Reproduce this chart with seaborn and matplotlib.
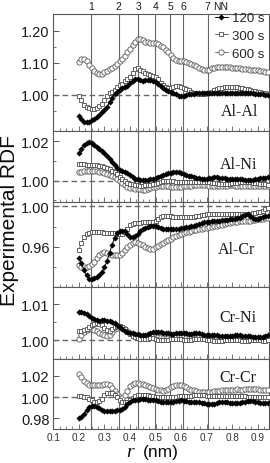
import matplotlib
matplotlib.use("Agg")
import matplotlib.pyplot as plt
import seaborn as sns
from matplotlib.ticker import FixedLocator

# ---------------- data ----------------
r_nm = [0.20, 0.21, 0.22, 0.23, 0.24, 0.25, 0.26, 0.27, 0.28, 0.29,
        0.30, 0.31, 0.32, 0.33, 0.34, 0.35, 0.36, 0.37, 0.38, 0.39,
        0.40, 0.41, 0.42, 0.43, 0.44, 0.45, 0.46, 0.47, 0.48, 0.49,
        0.50, 0.51, 0.52, 0.53, 0.54, 0.55, 0.56, 0.57, 0.58, 0.59,
        0.60, 0.61, 0.62, 0.63, 0.64, 0.65, 0.66, 0.67, 0.68, 0.69,
        0.70, 0.71, 0.72, 0.73, 0.74, 0.75, 0.76, 0.77, 0.78, 0.79,
        0.80, 0.81, 0.82, 0.83, 0.84, 0.85, 0.86, 0.87, 0.88, 0.89,
        0.90, 0.91, 0.92, 0.93, 0.94]

series_labels = ["120 s", "300 s", "600 s"]
panel_names = ["Al-Al", "Al-Ni", "Al-Cr", "Cr-Ni", "Cr-Cr"]
nn_r = [0.249, 0.356, 0.432, 0.499, 0.557, 0.607, 0.704]
nn_labels = ["1", "2", "3", "4", "5", "6", "7"]
x_ticks = [0.1, 0.2, 0.3, 0.4, 0.5, 0.6, 0.7, 0.8, 0.9]
x_tick_labels = ["0.1", "0.2", "0.3", "0.4", "0.5", "0.6", "0.7", "0.8", "0.9"]

al_al_120 = [0.934, 0.924, 0.916, 0.914, 0.916, 0.920, 0.925, 0.931, 0.938, 0.946,
             0.953, 0.962, 0.976, 0.991, 1.002, 1.010, 1.016, 1.020, 1.024, 1.028,
             1.036, 1.043, 1.048, 1.049, 1.046, 1.044, 1.045, 1.046, 1.046, 1.044,
             1.040, 1.034, 1.027, 1.021, 1.016, 1.012, 1.008, 1.005, 1.001, 0.997,
             0.995, 0.995, 0.998, 1.001, 1.003, 1.003, 1.004, 1.004, 1.004, 1.004,
             1.004, 1.005, 1.006, 1.007, 1.007, 1.007, 1.006, 1.005, 1.005, 1.005,
             1.005, 1.006, 1.007, 1.007, 1.007, 1.006, 1.005, 1.004, 1.004, 1.003,
             1.003, 1.002, 1.001, 0.999, 0.998]
al_al_300 = [0.997, 0.983, 0.969, 0.963, 0.960, 0.957, 0.956, 0.958, 0.964, 0.972,
             0.983, 0.996, 1.004, 1.010, 1.016, 1.023, 1.029, 1.035, 1.042, 1.048,
             1.056, 1.068, 1.080, 1.084, 1.078, 1.073, 1.069, 1.066, 1.063, 1.060,
             1.056, 1.048, 1.038, 1.030, 1.025, 1.021, 1.021, 1.024, 1.026, 1.026,
             1.024, 1.021, 1.018, 1.014, 1.010, 1.007, 1.004, 1.003, 1.003, 1.003,
             1.004, 1.006, 1.010, 1.015, 1.018, 1.020, 1.022, 1.023, 1.024, 1.025,
             1.025, 1.025, 1.024, 1.022, 1.020, 1.018, 1.017, 1.015, 1.013, 1.011,
             1.009, 1.008, 1.006, 1.004, 1.002]
al_al_600 = [1.101, 1.112, 1.112, 1.105, 1.094, 1.083, 1.074, 1.068, 1.065, 1.066,
             1.070, 1.075, 1.079, 1.084, 1.090, 1.097, 1.104, 1.112, 1.122, 1.133,
             1.143, 1.155, 1.166, 1.174, 1.174, 1.170, 1.166, 1.164, 1.163, 1.162,
             1.160, 1.157, 1.153, 1.148, 1.141, 1.133, 1.125, 1.116, 1.109, 1.106,
             1.105, 1.104, 1.102, 1.099, 1.096, 1.093, 1.089, 1.084, 1.079, 1.077,
             1.077, 1.078, 1.082, 1.085, 1.086, 1.087, 1.087, 1.086, 1.086, 1.086,
             1.085, 1.084, 1.083, 1.082, 1.080, 1.080, 1.079, 1.078, 1.078, 1.077,
             1.076, 1.075, 1.074, 1.072, 1.071]

al_ni_120 = [1.0140, 1.0160, 1.0180, 1.0192, 1.0195, 1.0190, 1.0180, 1.0170, 1.0160, 1.0150,
             1.0138, 1.0125, 1.0112, 1.0095, 1.0078, 1.0062, 1.0052, 1.0047, 1.0044, 1.0040,
             1.0030, 1.0018, 1.0010, 1.0008, 1.0006, 1.0005, 1.0005, 1.0006, 1.0008, 1.0010,
             1.0013, 1.0018, 1.0024, 1.0030, 1.0034, 1.0038, 1.0041, 1.0043, 1.0044, 1.0043,
             1.0040, 1.0035, 1.0030, 1.0025, 1.0022, 1.0018, 1.0015, 1.0012, 1.0010, 1.0009,
             1.0010, 1.0012, 1.0015, 1.0017, 1.0017, 1.0016, 1.0014, 1.0012, 1.0010, 1.0009,
             1.0009, 1.0009, 1.0010, 1.0010, 1.0008, 1.0006, 1.0005, 1.0005, 1.0006, 1.0008,
             1.0010, 1.0012, 1.0014, 1.0016, 1.0017]
al_ni_300 = [1.0083, 1.0083, 1.0083, 1.0082, 1.0081, 1.0080, 1.0079, 1.0078, 1.0075, 1.0072,
             1.0069, 1.0066, 1.0060, 1.0050, 1.0042, 1.0032, 1.0020, 1.0009, 1.0000, 0.9990,
             0.9984, 0.9981, 0.9978, 0.9976, 0.9975, 0.9975, 0.9976, 0.9978, 0.9980, 0.9982,
             0.9984, 0.9988, 0.9992, 0.9996, 0.9998, 1.0000, 0.9999, 0.9997, 0.9995, 0.9993,
             0.9992, 0.9992, 0.9993, 0.9994, 0.9995, 0.9995, 0.9994, 0.9993, 0.9993, 0.9993,
             0.9993, 0.9992, 0.9990, 0.9988, 0.9986, 0.9985, 0.9984, 0.9983, 0.9983, 0.9984,
             0.9986, 0.9988, 0.9990, 0.9992, 0.9993, 0.9993, 0.9993, 0.9992, 0.9990, 0.9988,
             0.9986, 0.9984, 0.9982, 0.9981, 0.9980]
al_ni_600 = [1.0043, 1.0045, 1.0047, 1.0049, 1.0050, 1.0050, 1.0050, 1.0049, 1.0046, 1.0042,
             1.0038, 1.0034, 1.0028, 1.0022, 1.0017, 1.0008, 0.9998, 0.9988, 0.9978, 0.9970,
             0.9965, 0.9962, 0.9960, 0.9958, 0.9956, 0.9955, 0.9955, 0.9957, 0.9961, 0.9966,
             0.9970, 0.9973, 0.9975, 0.9975, 0.9975, 0.9973, 0.9969, 0.9966, 0.9966, 0.9968,
             0.9970, 0.9972, 0.9972, 0.9973, 0.9975, 0.9977, 0.9979, 0.9980, 0.9980, 0.9979,
             0.9977, 0.9975, 0.9974, 0.9973, 0.9972, 0.9972, 0.9973, 0.9974, 0.9975, 0.9976,
             0.9976, 0.9975, 0.9974, 0.9973, 0.9972, 0.9972, 0.9972, 0.9972, 0.9972, 0.9973,
             0.9973, 0.9973, 0.9972, 0.9972, 0.9972]

al_cr_120 = [0.9488, 0.9440, 0.9375, 0.9320, 0.9285, 0.9280, 0.9290, 0.9305, 0.9325, 0.9350,
             0.9400, 0.9460, 0.9540, 0.9620, 0.9690, 0.9740, 0.9760, 0.9762, 0.9755, 0.9725,
             0.9700, 0.9698, 0.9710, 0.9730, 0.9755, 0.9775, 0.9790, 0.9800, 0.9808, 0.9810,
             0.9808, 0.9800, 0.9790, 0.9782, 0.9778, 0.9776, 0.9776, 0.9777, 0.9779, 0.9782,
             0.9785, 0.9790, 0.9795, 0.9800, 0.9804, 0.9808, 0.9815, 0.9825, 0.9835, 0.9842,
             0.9845, 0.9848, 0.9852, 0.9855, 0.9858, 0.9860, 0.9862, 0.9865, 0.9868, 0.9872,
             0.9875, 0.9878, 0.9882, 0.9890, 0.9905, 0.9920, 0.9925, 0.9905, 0.9885, 0.9878,
             0.9880, 0.9888, 0.9897, 0.9905, 0.9910]
al_cr_300 = [0.9570, 0.9640, 0.9700, 0.9730, 0.9740, 0.9745, 0.9745, 0.9745, 0.9745, 0.9743,
             0.9740, 0.9738, 0.9736, 0.9735, 0.9735, 0.9733, 0.9730, 0.9730, 0.9745, 0.9780,
             0.9815, 0.9828, 0.9833, 0.9836, 0.9840, 0.9843, 0.9844, 0.9844, 0.9845, 0.9848,
             0.9860, 0.9880, 0.9898, 0.9905, 0.9908, 0.9908, 0.9903, 0.9897, 0.9893, 0.9892,
             0.9892, 0.9893, 0.9894, 0.9895, 0.9897, 0.9900, 0.9905, 0.9910, 0.9915, 0.9918,
             0.9921, 0.9923, 0.9925, 0.9926, 0.9926, 0.9926, 0.9925, 0.9925, 0.9926, 0.9927,
             0.9928, 0.9929, 0.9930, 0.9930, 0.9929, 0.9928, 0.9928, 0.9930, 0.9934, 0.9940,
             0.9946, 0.9950, 0.9958, 0.9972, 0.9982]
al_cr_600 = [0.9422, 0.9405, 0.9398, 0.9400, 0.9412, 0.9430, 0.9455, 0.9490, 0.9525, 0.9545,
             0.9548, 0.9540, 0.9530, 0.9523, 0.9520, 0.9520, 0.9525, 0.9545, 0.9570, 0.9595,
             0.9620, 0.9640, 0.9646, 0.9642, 0.9630, 0.9615, 0.9600, 0.9588, 0.9582, 0.9585,
             0.9595, 0.9610, 0.9625, 0.9640, 0.9655, 0.9668, 0.9680, 0.9695, 0.9708, 0.9720,
             0.9730, 0.9738, 0.9745, 0.9752, 0.9758, 0.9763, 0.9768, 0.9775, 0.9780, 0.9785,
             0.9790, 0.9795, 0.9800, 0.9805, 0.9810, 0.9815, 0.9820, 0.9826, 0.9832, 0.9837,
             0.9842, 0.9846, 0.9850, 0.9853, 0.9855, 0.9857, 0.9859, 0.9860, 0.9864, 0.9868,
             0.9872, 0.9876, 0.9879, 0.9882, 0.9884]

cr_ni_120 = [1.0077, 1.0077, 1.0075, 1.0072, 1.0067, 1.0062, 1.0058, 1.0055, 1.0054, 1.0055,
             1.0055, 1.0054, 1.0052, 1.0050, 1.0047, 1.0042, 1.0037, 1.0032, 1.0027, 1.0023,
             1.0020, 1.0019, 1.0018, 1.0017, 1.0016, 1.0015, 1.0015, 1.0017, 1.0020, 1.0022,
             1.0022, 1.0022, 1.0022, 1.0021, 1.0020, 1.0019, 1.0018, 1.0018, 1.0019, 1.0020,
             1.0020, 1.0020, 1.0019, 1.0018, 1.0018, 1.0019, 1.0020, 1.0019, 1.0017, 1.0015,
             1.0014, 1.0014, 1.0015, 1.0015, 1.0014, 1.0013, 1.0013, 1.0013, 1.0013, 1.0013,
             1.0013, 1.0014, 1.0014, 1.0014, 1.0013, 1.0012, 1.0012, 1.0011, 1.0010, 1.0009,
             1.0008, 1.0008, 1.0010, 1.0013, 1.0015]
cr_ni_300 = [1.0026, 1.0027, 1.0029, 1.0031, 1.0036, 1.0041, 1.0045, 1.0047, 1.0046, 1.0042,
             1.0035, 1.0028, 1.0027, 1.0031, 1.0036, 1.0039, 1.0039, 1.0036, 1.0030, 1.0023,
             1.0017, 1.0012, 1.0008, 1.0006, 1.0005, 1.0004, 1.0004, 1.0005, 1.0006, 1.0006,
             1.0004, 1.0002, 1.0001, 1.0001, 1.0001, 1.0002, 1.0004, 1.0005, 1.0005, 1.0004,
             1.0003, 1.0002, 1.0001, 1.0001, 1.0002, 1.0003, 1.0004, 1.0004, 1.0004, 1.0003,
             1.0002, 1.0001, 1.0000, 0.9999, 0.9998, 0.9998, 0.9999, 1.0000, 1.0001, 1.0002,
             1.0002, 1.0002, 1.0001, 1.0000, 0.9999, 0.9999, 0.9999, 1.0000, 1.0001, 1.0001,
             1.0001, 1.0000, 0.9999, 0.9999, 1.0000]
cr_ni_600 = [1.0005, 1.0015, 1.0024, 1.0028, 1.0030, 1.0030, 1.0028, 1.0025, 1.0021, 1.0017,
             1.0014, 1.0013, 1.0016, 1.0023, 1.0030, 1.0035, 1.0036, 1.0034, 1.0030, 1.0025,
             1.0020, 1.0015, 1.0011, 1.0009, 1.0008, 1.0008, 1.0009, 1.0010, 1.0011, 1.0011,
             1.0010, 1.0009, 1.0008, 1.0007, 1.0006, 1.0006, 1.0006, 1.0007, 1.0008, 1.0008,
             1.0008, 1.0008, 1.0007, 1.0006, 1.0006, 1.0006, 1.0007, 1.0008, 1.0008, 1.0007,
             1.0006, 1.0005, 1.0005, 1.0006, 1.0006, 1.0006, 1.0006, 1.0005, 1.0004, 1.0004,
             1.0004, 1.0005, 1.0005, 1.0005, 1.0004, 1.0004, 1.0004, 1.0004, 1.0004, 1.0003,
             1.0003, 1.0004, 1.0004, 1.0003, 1.0003]

cr_cr_120 = [0.9800, 0.9815, 0.9840, 0.9875, 0.9905, 0.9915, 0.9915, 0.9910, 0.9895, 0.9880,
             0.9873, 0.9872, 0.9872, 0.9872, 0.9872, 0.9874, 0.9880, 0.9892, 0.9910, 0.9935,
             0.9958, 0.9968, 0.9972, 0.9976, 0.9980, 0.9981, 0.9979, 0.9976, 0.9975, 0.9975,
             0.9972, 0.9966, 0.9958, 0.9952, 0.9950, 0.9950, 0.9950, 0.9954, 0.9960, 0.9966,
             0.9968, 0.9966, 0.9962, 0.9957, 0.9952, 0.9950, 0.9950, 0.9950, 0.9948, 0.9942,
             0.9935, 0.9930, 0.9930, 0.9935, 0.9942, 0.9950, 0.9955, 0.9955, 0.9952, 0.9948,
             0.9945, 0.9944, 0.9945, 0.9948, 0.9953, 0.9958, 0.9962, 0.9962, 0.9960, 0.9956,
             0.9952, 0.9948, 0.9944, 0.9940, 0.9940]
cr_cr_300 = [1.0012, 1.0008, 1.0003, 0.9997, 0.9985, 0.9970, 0.9955, 0.9950, 0.9960, 0.9985,
             1.0015, 1.0035, 1.0040, 1.0035, 1.0020, 1.0000, 0.9975, 0.9958, 0.9952, 0.9955,
             0.9970, 0.9990, 1.0008, 1.0017, 1.0020, 1.0020, 1.0019, 1.0017, 1.0013, 1.0008,
             1.0003, 0.9999, 0.9997, 0.9996, 0.9996, 0.9997, 0.9998, 1.0000, 1.0004, 1.0008,
             1.0011, 1.0012, 1.0012, 1.0013, 1.0014, 1.0016, 1.0018, 1.0019, 1.0018, 1.0016,
             1.0014, 1.0012, 1.0011, 1.0011, 1.0012, 1.0013, 1.0013, 1.0012, 1.0010, 1.0008,
             1.0007, 1.0007, 1.0008, 1.0009, 1.0008, 1.0006, 1.0004, 1.0002, 1.0001, 1.0000,
             0.9999, 0.9998, 0.9997, 0.9997, 0.9997]
cr_cr_600 = [1.0216, 1.0185, 1.0150, 1.0128, 1.0116, 1.0112, 1.0111, 1.0112, 1.0113, 1.0117,
             1.0121, 1.0121, 1.0110, 1.0088, 1.0060, 1.0030, 1.0005, 0.9995, 1.0015, 1.0055,
             1.0100, 1.0125, 1.0132, 1.0130, 1.0125, 1.0120, 1.0112, 1.0102, 1.0093, 1.0085,
             1.0075, 1.0067, 1.0062, 1.0060, 1.0062, 1.0075, 1.0095, 1.0108, 1.0113, 1.0113,
             1.0110, 1.0102, 1.0092, 1.0080, 1.0070, 1.0062, 1.0055, 1.0050, 1.0046, 1.0044,
             1.0044, 1.0046, 1.0050, 1.0055, 1.0059, 1.0061, 1.0062, 1.0063, 1.0065, 1.0066,
             1.0068, 1.0070, 1.0071, 1.0070, 1.0070, 1.0072, 1.0074, 1.0075, 1.0075, 1.0074,
             1.0072, 1.0070, 1.0069, 1.0069, 1.0069]

panel_series = [
    (al_al_120, al_al_300, al_al_600),
    (al_ni_120, al_ni_300, al_ni_600),
    (al_cr_120, al_cr_300, al_cr_600),
    (cr_ni_120, cr_ni_300, cr_ni_600),
    (cr_cr_120, cr_cr_300, cr_cr_600),
]

# ---------------- layout / style ----------------
sns.set_style("ticks")
plt.rcParams["font.family"] = ["Liberation Sans", "DejaVu Sans"]

W, H = 270, 464
fig = plt.figure(figsize=(W / 100, H / 100), dpi=100)

left_px, right_px = 53.3, 268.5
panel_px = [(15, 132), (132, 203), (203, 288), (288, 360), (360, 430)]
ylims = [(0.887, 1.252), (0.9892, 1.0252), (0.9205, 1.0044), (0.99485, 1.0147), (0.970, 1.0357)]
ymajor = [[1.00, 1.10, 1.20], [1.00, 1.02], [0.96, 1.00], [1.00, 1.01], [0.98, 1.00, 1.02]]
yminor = [[0.95, 1.05, 1.15], [0.99, 1.01], [0.94, 0.98], [1.005], []]
label_pos = [(240, 112), (239, 165), (237, 250), (238, 318), (238, 378)]

styles = [
    dict(marker="D", markersize=2.8, markerfacecolor="black", markeredgecolor="black",
         markeredgewidth=0.3, color="black", linewidth=0.7),
    dict(marker="s", markersize=3.5, markerfacecolor="white", markeredgecolor="0.3",
         markeredgewidth=0.6, color="0.3", linewidth=0.6),
    dict(marker="o", markersize=3.8, markerfacecolor="white", markeredgecolor="0.35",
         markeredgewidth=0.6, color="0.35", linewidth=0.6),
]
draw_order = [2, 1, 0]

axes = []
for i, (top, bot) in enumerate(panel_px):
    ax = fig.add_axes([left_px / W, 1 - bot / H, (right_px - left_px) / W, (bot - top) / H])
    axes.append(ax)
    ax.set_xlim(0.1, 0.942)
    ax.set_ylim(*ylims[i])
    for xv in nn_r:
        ax.axvline(xv, color="0.4", lw=0.8, zorder=1)
    ax.axhline(1.0, color="0.4", lw=1.0, ls=(0, (4, 2.5)), zorder=1.5)
    for k in draw_order:
        sns.lineplot(x=r_nm, y=panel_series[i][k], ax=ax, label=series_labels[k],
                     zorder=3 + (2 - k), **styles[k])
    if ax.get_legend() is not None:
        ax.get_legend().remove()
    ax.set_xlabel("")
    ax.set_ylabel("")
    ax.yaxis.set_major_locator(FixedLocator(ymajor[i]))
    ax.yaxis.set_minor_locator(FixedLocator(yminor[i]))
    ax.set_yticklabels([f"{v:.2f}" for v in ymajor[i]])
    ax.xaxis.set_major_locator(FixedLocator(x_ticks))
    ax.xaxis.set_minor_locator(FixedLocator([0.1 + 0.025 * j for j in range(34)]))
    ax.tick_params(axis="y", which="major", direction="in", length=4, width=0.7,
                   labelsize=10.5, pad=2.5, colors="0.35", labelcolor="0.1")
    ax.tick_params(axis="y", which="minor", direction="in", length=2.5, width=0.6, colors="0.35")
    ax.tick_params(axis="x", which="major", direction="in", length=3.5, width=0.6,
                   labelsize=7.2, pad=2.5, colors="0.35", labelcolor="0.2")
    ax.tick_params(axis="x", which="minor", direction="in", length=2.5, width=0.5, colors="0.35")
    if i < len(panel_px) - 1:
        ax.tick_params(axis="x", labelbottom=False)
    else:
        ax.set_xticklabels(x_tick_labels)
    for sp in ax.spines.values():
        sp.set_visible(True)
        sp.set_color("0.35")
        sp.set_linewidth(0.8)
    lx, ly = label_pos[i]
    fig.text(lx / W, 1 - ly / H, panel_names[i], ha="center", va="center",
             fontsize=11.5, family=["Liberation Serif", "DejaVu Serif"], color="0.1")

# legend in the top panel
ax0 = axes[0]
handles, labels = ax0.get_legend_handles_labels()
order = [labels.index(s) for s in series_labels]
fig.legend([handles[j] for j in order], [labels[j] for j in order],
           loc="upper right", bbox_to_anchor=(265 / W, 1 - 13 / H),
           frameon=False, fontsize=9.5, handlelength=1.0, handletextpad=0.35,
           labelspacing=0.42, borderpad=0, borderaxespad=0)

# nearest-neighbour labels above the top panel
for xv, lab in zip(nn_r, nn_labels):
    ax0.text(xv, 1.0 + 8 / (132 - 15), lab, transform=ax0.get_xaxis_transform(),
             ha="center", va="center", fontsize=7.5, color="0.1")
ax0.text(nn_r[-1] + 0.02, 1.0 + 8 / (132 - 15), "NN", transform=ax0.get_xaxis_transform(),
         ha="left", va="center", fontsize=7.5, color="0.1")

# axis titles
fig.text(10 / W, 1 - 221 / H, "Experimental RDF", rotation=90, ha="center", va="center",
         fontsize=15, color="0.05")
fig.text(130 / W, 1 - 453 / H, "r", ha="center", va="center", fontsize=14, style="italic",
         family=["Liberation Serif", "DejaVu Serif"], color="0.05")
fig.text(161 / W, 1 - 453 / H, "(nm)", ha="center", va="center", fontsize=12.5, color="0.05")

fig.savefig("out.png", dpi=100)
